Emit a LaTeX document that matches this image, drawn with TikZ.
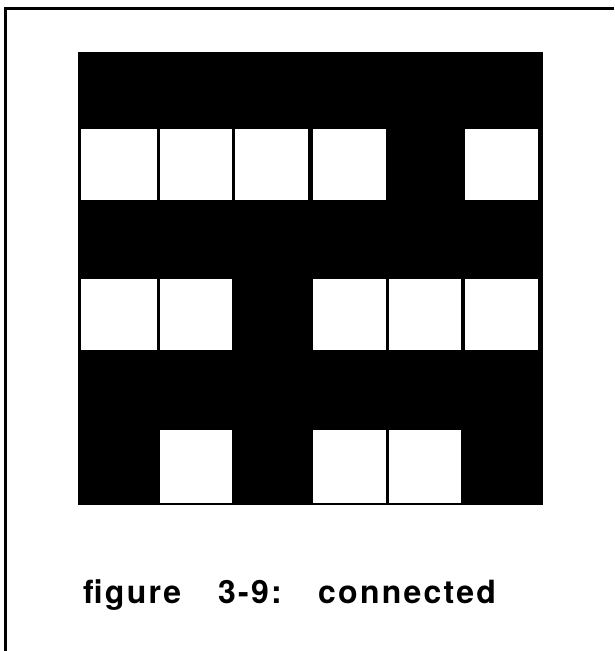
\documentclass[tikz,border=0pt]{standalone}
\usepackage{fontspec}
\setmainfont{TeX Gyre Heros}
\begin{document}
\begin{tikzpicture}[x=1pt,y=-1pt,
  frameline/.style={line width=3pt,black},
  cell/.style={fill=white},
  caption/.style={inner sep=0pt,anchor=base west,font=\fontsize{32}{36}\selectfont\bfseries\addfontfeatures{LetterSpace=7}}]
\useasboundingbox (0,0) rectangle (614,651);
% open frame (top and left edges)
\coordinate (fbl) at (5.5,651);
\coordinate (ftl) at (5.5,8.5);
\coordinate (ftr) at (614,8.5);
\draw[frameline] (fbl) -- (ftl) -- (ftr);
% black grid
\fill[black] (78,52) rectangle (543,505);
% row 2 white cells
\fill[cell] (81,129) rectangle (157,200);
\fill[cell] (160,129) rectangle (232,200);
\fill[cell] (235,129) rectangle (308,200);
\fill[cell] (313,129) rectangle (386,200);
\fill[cell] (465,129) rectangle (538,200);
% row 4 white cells
\fill[cell] (81,279) rectangle (157,350);
\fill[cell] (160,279) rectangle (232,350);
\fill[cell] (313,279) rectangle (386,350);
\fill[cell] (389,279) rectangle (461,350);
\fill[cell] (465,279) rectangle (538,350);
% row 6 white cells
\fill[cell] (160,430) rectangle (232,503);
\fill[cell] (313,430) rectangle (386,503);
\fill[cell] (389,430) rectangle (461,503);
% caption
\node[caption] (w1) at (83,603) {figure};
\node[caption] (w2) at (218,603) {3-9:};
\node[caption] (w3) at (318,603) {connected};
\end{tikzpicture}
\end{document}
